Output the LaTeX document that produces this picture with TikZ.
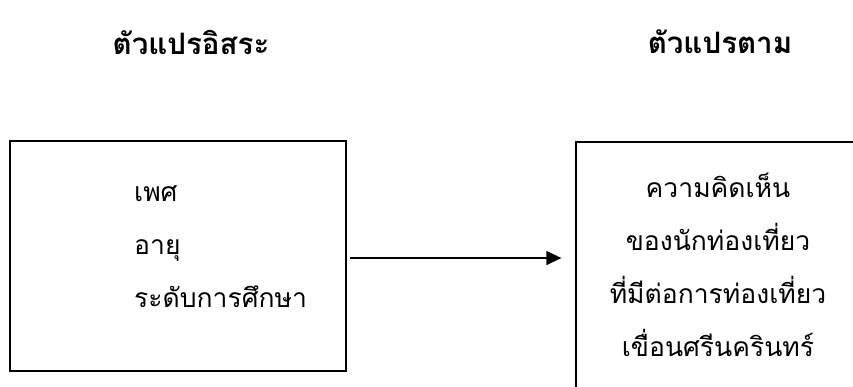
\documentclass[tikz,border=0pt]{standalone}
\usepackage{fontspec}
\newfontfamily\thaifont[Script=Thai]{Loma}
\usetikzlibrary{arrows.meta}
\begin{document}
\begin{tikzpicture}[x=1pt,y=-1pt,
  boxstyle/.style={draw, line width=1.3pt, inner sep=0pt, rectangle},
  bodytext/.style={font=\thaifont\fontsize{26.5}{53}\selectfont, inner sep=0pt},
  titletext/.style={font=\thaifont\bfseries\fontsize{29.5}{34}\selectfont, inner sep=0pt},
  conn/.style={line width=1.3pt, -{Triangle[length=15pt,width=14pt]}}]
\useasboundingbox (0,0) rectangle (853,386);
\clip (0,0) rectangle (853,386);
\node[titletext] (t1) at (191,42) {ตัวแปรอิสระ};
\node[titletext] (t2) at (720,42) {ตัวแปรตาม};
\node[boxstyle, minimum width=336pt, minimum height=230pt] (lbox) at (178,256) {};
\node[boxstyle, minimum width=330pt, minimum height=290pt] (rbox) at (741,287) {};
\node[bodytext, align=left, anchor=west] (ltext) at (134,247) {เพศ\\อายุ\\ระดับการศึกษา};
\node[bodytext, align=center] (rtext) at (718,265) {ความคิดเห็น\\ของนักท่องเที่ยว\\ที่มีต่อการท่องเที่ยว\\เขื่อนศรีนครินทร์};
\coordinate (astart) at ([xshift=3pt,yshift=-2pt]lbox.east);
\draw[conn] (astart) -- ([xshift=-14pt]rbox.west |- astart);
\end{tikzpicture}
\end{document}
